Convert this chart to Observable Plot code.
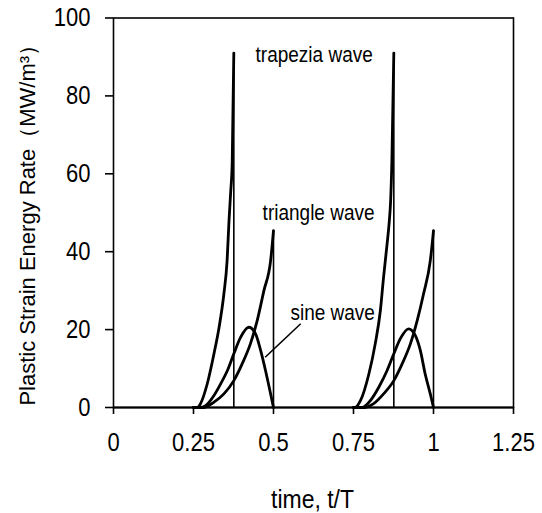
<!DOCTYPE html>
<html>
<head>
<meta charset="utf-8">
<script src="https://cdn.jsdelivr.net/npm/d3@7"></script>
<script src="https://cdn.jsdelivr.net/npm/@observablehq/plot@0.6"></script>
<style>
  html, body { margin: 0; padding: 0; background: white; }
</style>
</head>
<body>
<div id="chart"></div>
<script>
// ---- data ----
const xTicks = [0, 0.25, 0.5, 0.75, 1, 1.25];
const xTickLabels = ["0", "0.25", "0.5", "0.75", "1", "1.25"];
const yTicks = [0, 20, 40, 60, 80, 100];

const trapeziaT1 = [0.25, 0.262, 0.272, 0.293, 0.314, 0.330, 0.345, 0.355, 0.361, 0.366, 0.371, 0.376];
const trapeziaV1 = [0, 0, 1, 6.1, 13.8, 20.6, 29.2, 37.7, 48, 55, 63, 91];
const trapeziaT2 = [0.75, 0.755, 0.772, 0.798, 0.818, 0.834, 0.844, 0.855, 0.862, 0.866, 0.870, 0.876];
const trapeziaV2 = [0, 0, 1.8, 8.6, 16.4, 24.9, 33.5, 42, 48, 53, 63.4, 91];

const triangleT1 = [0.25, 0.283, 0.314, 0.345, 0.376, 0.402, 0.428, 0.449, 0.470, 0.491, 0.5];
const triangleV1 = [0, 0, 1.4, 3.5, 6.9, 11.2, 16.4, 22.3, 30, 37.7, 45.4];
const triangleT2 = [0.75, 0.782, 0.813, 0.844, 0.876, 0.902, 0.928, 0.949, 0.969, 0.99, 1.0];
const triangleV2 = [0, 0, 1, 3.5, 6.9, 11.2, 16.4, 22.3, 29.2, 37.7, 45.4];

const sineT1 = [0.25, 0.27, 0.288, 0.314, 0.335, 0.356, 0.376, 0.397, 0.423, 0.444, 0.46, 0.475, 0.491, 0.5];
const sineV1 = [0, 0, 0.5, 3.1, 6.1, 9.5, 13.8, 18, 20.6, 18.9, 14.6, 9.5, 3.5, 0];
const sineT2 = [0.75, 0.777, 0.803, 0.829, 0.855, 0.876, 0.896, 0.922, 0.943, 0.959, 0.974, 0.99, 1.0];
const sineV2 = [0, 0, 1.8, 5.2, 9.5, 13.8, 17.6, 20.2, 18.5, 14.6, 8.6, 3.5, 0];

// vertical drops at the end of trapezia / triangle pulses
const dropT = [0.376, 0.5, 0.876, 1.0];
const dropTop = [91, 45.4, 91, 45.4];

const labelNames = ["trapezia wave", "triangle wave", "sine wave"];
const xTitle = "time, t/T";
const yTitle = "Plastic Strain Energy Rate\uFF08MW/m\u00B3\uFF09";

// ---- build tables ----
function rows(ts, vs, key) { return ts.map((t, i) => ({t, v: vs[i], key})); }
const curves = [
  ...rows(trapeziaT1, trapeziaV1, "trap1"),
  ...rows(trapeziaT2, trapeziaV2, "trap2"),
  ...rows(triangleT1, triangleV1, "tri1"),
  ...rows(triangleT2, triangleV2, "tri2"),
  ...rows(sineT1, sineV1, "sin1"),
  ...rows(sineT2, sineV2, "sin2")
];
const drops = dropT.map((t, i) => ({t, top: dropTop[i]}));

const chart = Plot.plot({
  width: 542,
  height: 513,
  marginTop: 17.5,
  marginLeft: 113,
  marginRight: 29,
  marginBottom: 106,
  style: {fontFamily: "'Liberation Sans', Arial, sans-serif", fontSize: "22px", color: "black", background: "white"},
  x: {domain: [0, 1.25]},
  y: {domain: [0, 100]},
  marks: [
    Plot.frame({stroke: "black", strokeWidth: 1.6}),
    Plot.axisX({ticks: xTicks, tickFormat: (d, i) => xTickLabels[i], tickSize: 7, tickPadding: 20, label: null, fontSize: 22, strokeWidth: 1.6}),
    Plot.axisY({ticks: yTicks, tickSize: 8, tickPadding: 15, label: null, fontSize: 22, strokeWidth: 1.6}),
    Plot.ruleY([0], {stroke: "black", strokeWidth: 2}),
    Plot.line(curves, {x: "t", y: "v", z: "key", stroke: "black", strokeWidth: 2.8, curve: "monotone-x"}),
    Plot.ruleX(drops, {x: "t", y1: 0, y2: "top", stroke: "black", strokeWidth: 1.6}),
    Plot.link([0], {x1: 0.585, y1: 21.5, x2: 0.474, y2: 12.9, stroke: "black", strokeWidth: 1.6}),
    Plot.text([labelNames[0]], {x: 0.444, y: 90.4, text: d => d, textAnchor: "start", lineAnchor: "middle", fontSize: 19}),
    Plot.text([labelNames[1]], {x: 0.466, y: 50, text: d => d, textAnchor: "start", lineAnchor: "middle", fontSize: 19}),
    Plot.text([labelNames[2]], {x: 0.553, y: 24.3, text: d => d, textAnchor: "start", lineAnchor: "middle", fontSize: 19}),
    Plot.text([xTitle], {frameAnchor: "bottom", text: d => d, textAnchor: "middle", lineAnchor: "middle", dy: 92, dx: -1, fontSize: 23}),
    Plot.text([yTitle], {frameAnchor: "left", text: d => d, rotate: -90, textAnchor: "middle", lineAnchor: "middle", dx: -86, dy: 7, fontSize: 22})
  ]
});
document.getElementById("chart").appendChild(chart);

// The reference scan is slightly stretched vertically: stretch horizontal texts to match.
chart.querySelectorAll("text").forEach(t => {
  if (t.textContent === yTitle) return;
  const g = document.createElementNS("http://www.w3.org/2000/svg", "g");
  t.parentNode.insertBefore(g, t);
  g.appendChild(t);
  const b = g.getBBox();
  const cy = b.y + b.height / 2;
  g.setAttribute("transform", `translate(0,${cy}) scale(1,1.15) translate(0,${-cy})`);
});
</script>
</body>
</html>
